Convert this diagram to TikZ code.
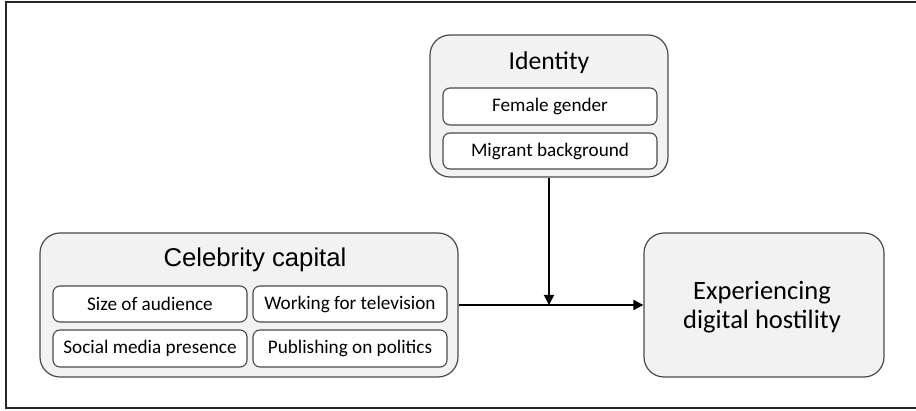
\documentclass[tikz,border=0pt]{standalone}
\usepackage{fontspec}
\setmainfont{Carlito}
\newfontfamily\arialfont{Liberation Sans}
\usetikzlibrary{arrows.meta}
\definecolor{boxfill}{HTML}{F2F2F2}
\definecolor{boxline}{HTML}{4A4A4A}
\begin{document}
\begin{tikzpicture}[x=1pt,y=-1pt,
  bigbox/.style={draw=boxline,line width=1.2pt,fill=boxfill,rounded corners=20pt,inner sep=0pt},
  smallbox/.style={draw=boxline,line width=1.1pt,fill=white,rounded corners=7pt,inner sep=0pt,
    minimum width=194pt,minimum height=36pt,font=\fontsize{19.2}{22}\selectfont},
  title/.style={inner sep=0pt,anchor=base,font=\fontsize{25.7}{30}\selectfont},
  conn/.style={line width=1.8pt,-{Triangle[length=10pt,width=10pt]}}]
\useasboundingbox (0,0) rectangle (916,411);
\draw[line width=2pt,draw=black!85] (916,2.5) -- (5.5,2.5) -- (5.5,408.5) -- (916,408.5);
% Identity
\node[bigbox,minimum width=238pt,minimum height=142pt] (id) at (549,106) {};
\node[title] (idt) at (549,69.3) {Identity};
\node[smallbox,minimum width=214pt,minimum height=37pt] (fg) at (550,106.5) {Female gender};
\node[smallbox,minimum width=214pt,minimum height=36pt] (mb) at (550,151) {Migrant background};
% Celebrity capital
\node[bigbox,minimum width=418pt,minimum height=144pt] (cel) at (249,305) {};
\node[title,font=\arialfont\fontsize{25.7}{30}\selectfont] (celt) at (255,266.7) {Celebrity capital};
\node[smallbox] (sa) at (150,304) {Size of audience};
\node[smallbox] (wt) at (350,304) {Working for television};
\node[smallbox,minimum height=37pt] (sm) at (150,348.5) {Social media presence};
\node[smallbox,minimum height=37pt] (pp) at (350,348.5) {Publishing on politics};
% Outcome
\node[bigbox,minimum width=240pt,minimum height=144pt] (exp) at (764,305) {};
\node[inner sep=0pt,align=center,font=\fontsize{26.5}{28.5}\selectfont] (expt) at (762,307) {Experiencing\\digital hostility};
% connectors
\coordinate (mid) at (id.south |- cel.east);
\draw[conn] (cel.east) -- (exp.west);
\draw[conn] (id.south) -- (mid);
\end{tikzpicture}
\end{document}
